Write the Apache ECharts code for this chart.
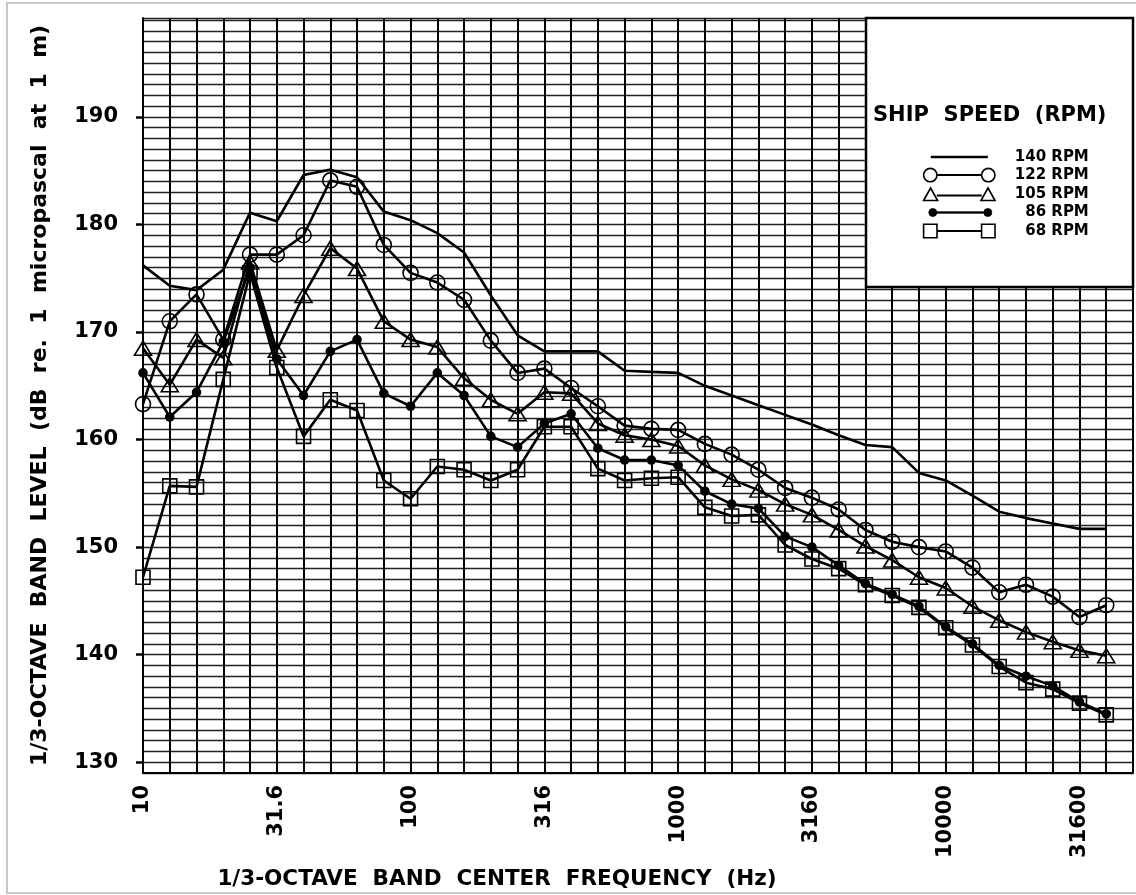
<!DOCTYPE html>
<html>
<head>
<meta charset="utf-8">
<script src="https://cdn.jsdelivr.net/npm/echarts@6/dist/echarts.min.js"></script>
<style>
  html, body { margin: 0; padding: 0; background: #fff; }
  #chart { width: 1136px; height: 895px; }
</style>
</head>
<body>
<div id="chart"></div>
<script>
// 1/3-octave band centers, 10 Hz .. 40 kHz (one grid column each)
const bands = ['10', '12.5', '16', '20', '25', '31.5', '40', '50', '63', '80',
  '100', '125', '160', '200', '250', '315', '400', '500', '630', '800',
  '1000', '1250', '1600', '2000', '2500', '3150', '4000', '5000', '6300', '8000',
  '10000', '12500', '16000', '20000', '25000', '31500', '40000'];

const xTickIdx = [0, 5, 10, 15, 20, 25, 30, 35];
const xTickLabels = ['10', '31.6', '100', '316', '1000', '3160', '10000', '31600'];
const yTicks = [130, 140, 150, 160, 170, 180, 190];

// band levels, dB re 1 uPa at 1 m
const rpm140 = [176.2, 174.3, 173.9, 175.8, 181.1, 180.3, 184.6, 185.1, 184.4, 181.2,
  180.4, 179.2, 177.4, 173.4, 169.7, 168.2, 168.2, 168.2, 166.4, 166.3,
  166.2, 165.0, 164.1, 163.2, 162.3, 161.4, 160.4, 159.5, 159.3, 156.9,
  156.2, 154.8, 153.3, 152.7, 152.2, 151.7, 151.7];
const rpm122 = [163.3, 171.0, 173.5, 169.3, 177.2, 177.2, 179.0, 184.1, 183.5, 178.1,
  175.5, 174.6, 173.0, 169.2, 166.2, 166.6, 164.8, 163.1, 161.3, 161.0,
  160.9, 159.6, 158.6, 157.2, 155.5, 154.6, 153.5, 151.6, 150.5, 150.0,
  149.6, 148.1, 145.8, 146.5, 145.4, 143.5, 144.6];
const rpm105 = [168.5, 165.1, 169.3, 167.6, 176.5, 168.3, 173.4, 177.8, 175.9, 171.0,
  169.3, 168.6, 165.7, 163.7, 162.4, 164.4, 164.3, 161.5, 160.4, 160.0,
  159.4, 157.6, 156.3, 155.3, 154.0, 153.0, 151.6, 150.1, 148.8, 147.2,
  146.2, 144.5, 143.2, 142.1, 141.2, 140.4, 139.9];
const rpm86 = [166.2, 162.1, 164.4, 169.1, 176.0, 167.5, 164.1, 168.2, 169.3, 164.3,
  163.1, 166.2, 164.1, 160.3, 159.3, 161.5, 162.4, 159.2, 158.1, 158.1,
  157.6, 155.2, 154.0, 153.6, 151.0, 150.0, 148.3, 146.6, 145.6, 144.5,
  142.6, 141.0, 139.0, 138.0, 137.1, 135.6, 134.5];
const rpm68 = [147.2, 155.7, 155.6, 165.6, 175.5, 166.7, 160.3, 163.7, 162.7, 156.2,
  154.5, 157.5, 157.2, 156.2, 157.2, 161.2, 161.2, 157.3, 156.2, 156.4,
  156.5, 153.7, 152.9, 153.0, 150.2, 148.9, 148.0, 146.5, 145.5, 144.4,
  142.5, 140.9, 138.9, 137.4, 136.8, 135.5, 134.4];

const font = '"DejaVu Sans", sans-serif';
const hollow = 'rgba(0,0,0,0)';

// legend icons: marker - line - marker, drawn in a 73x15 box
const iconLine = 'path://M0,0M73,15M8,6.3h57v2.4h-57z';
const iconCircle = 'path://M0,0M73,15M0.8,7.5a6.7,6.7 0 1,0 13.4,0a6.7,6.7 0 1,0 -13.4,0zM14.2,7.3h44.6v0.4h-44.6zM58.8,7.5a6.7,6.7 0 1,0 13.4,0a6.7,6.7 0 1,0 -13.4,0z';
const iconTri = 'path://M0,0M73,15M0.8,14L7.8,1.5L14.8,14zM14.8,8.8h43.4v0.4h-43.4zM58.2,14L65.2,1.5L72.2,14z';
const iconDot = 'path://M0,0M73,15M6,7.5a4,4 0 1,0 8,0a4,4 0 1,0 -8,0zM14,6.8h47v1.4h-47zM61,7.5a4,4 0 1,0 8,0a4,4 0 1,0 -8,0z';
const iconSquare = 'path://M0,0M73,15M0.8,0.8h13.4v13.4h-13.4zM14.2,7.3h44.6v0.4h-44.6zM58.8,0.8h13.4v13.4h-13.4z';

function makeSeries(name, values, symbol, size, fill) {
  return {
    name: name,
    type: 'line',
    data: values.map((v, i) => [i, v]),
    symbol: symbol,
    symbolSize: size,
    showSymbol: symbol !== 'none',
    lineStyle: { color: '#000', width: 2.6 },
    itemStyle: { color: fill, borderColor: '#000', borderWidth: 1.6 },
    emphasis: { disabled: true },
    z: 3
  };
}

const chart = echarts.init(document.getElementById('chart'));

const option = {
  animation: false,
  backgroundColor: '#fff',
  grid: { left: 143, right: 3, top: 18, bottom: 122 },
  xAxis: {
    type: 'value',
    min: 0,
    max: 37,
    interval: 1,
    axisLine: { show: true, onZero: false, lineStyle: { color: '#000', width: 2 } },
    axisTick: { show: false },
    splitLine: { show: true, lineStyle: { color: '#000', width: 2 } },
    axisLabel: {
      customValues: xTickIdx,
      formatter: v => xTickLabels[xTickIdx.indexOf(v)],
      rotate: 90,
      margin: 12,
      fontSize: 21,
      fontWeight: 'bold',
      fontFamily: font,
      color: '#000'
    },
    name: '1/3-OCTAVE  BAND  CENTER  FREQUENCY  (Hz)',
    nameLocation: 'middle',
    nameGap: 95,
    nameTextStyle: {
      fontSize: 21.5,
      fontWeight: 'bold',
      fontFamily: font,
      color: '#000',
      padding: [0, 282, 0, 0]
    }
  },
  yAxis: [
    {
      type: 'value',
      min: 129,
      max: 199.2,
      interval: 1,
      axisLine: { show: true, lineStyle: { color: '#000', width: 2 } },
      axisTick: { show: false },
      axisLabel: { show: false },
      splitLine: { show: true, lineStyle: { color: '#222', width: 1.4 } },
      name: '1/3-OCTAVE  BAND  LEVEL  (dB  re.  1  micropascal  at  1  m)',
      nameLocation: 'middle',
      nameGap: 92,
      nameTextStyle: { fontSize: 22, fontWeight: 'bold', fontFamily: font, color: '#000' }
    },
    {
      type: 'value',
      min: 129,
      max: 199.2,
      position: 'left',
      axisLine: { show: false },
      axisTick: { show: true, customValues: yTicks, length: 7, lineStyle: { color: '#000', width: 2.5 } },
      axisLabel: {
        customValues: yTicks,
        margin: 25,
        fontSize: 21,
        fontWeight: 'bold',
        fontFamily: font,
        color: '#000'
      },
      splitLine: { show: false }
    }
  ],
  legend: {
    orient: 'vertical',
    left: 922,
    top: 149.5,
    padding: 0,
    itemWidth: 73,
    itemHeight: 15,
    itemGap: 2.3,
    selectedMode: false,
    z: 20,
    formatter: name => '{t|' + name + '}',
    textStyle: {
      color: '#000',
      rich: {
        t: { width: 88, height: 15, lineHeight: 15, align: 'right', fontSize: 15, fontWeight: 'bold', fontFamily: font, color: '#000' }
      }
    },
    data: [
      { name: '140 RPM', icon: iconLine, itemStyle: { color: '#000', borderWidth: 0 } },
      { name: '122 RPM', icon: iconCircle, itemStyle: { color: hollow, borderColor: '#000', borderWidth: 1.6 } },
      { name: '105 RPM', icon: iconTri, itemStyle: { color: hollow, borderColor: '#000', borderWidth: 1.6 } },
      { name: '86 RPM', icon: iconDot, itemStyle: { color: '#000', borderColor: '#000', borderWidth: 0.8 } },
      { name: '68 RPM', icon: iconSquare, itemStyle: { color: hollow, borderColor: '#000', borderWidth: 1.6 } }
    ]
  },
  graphic: [
    {
      type: 'rect', silent: true, z: 0,
      shape: { x: 7, y: 3, width: 1140, height: 890 },
      style: { fill: 'none', stroke: '#c8c8c8', lineWidth: 2 }
    },
    {
      type: 'rect', silent: true, z: 10,
      shape: { x: 866, y: 18, width: 267, height: 269 },
      style: { fill: '#fff', stroke: '#000', lineWidth: 2.5 }
    },
    {
      type: 'text', silent: true, z: 11,
      x: 873, y: 116,
      style: {
        text: 'SHIP  SPEED  (RPM)',
        fontSize: 21,
        fontWeight: 'bold',
        fontFamily: font,
        fill: '#000',
        verticalAlign: 'middle'
      }
    }
  ],
  series: [
    makeSeries('140 RPM', rpm140, 'none', 0, '#000'),
    makeSeries('122 RPM', rpm122, 'circle', 15, hollow),
    makeSeries('105 RPM', rpm105, 'triangle', [17, 14], hollow),
    makeSeries('86 RPM', rpm86, 'circle', 8, '#000'),
    makeSeries('68 RPM', rpm68, 'rect', 14, hollow)
  ]
};

chart.setOption(option);
</script>
</body>
</html>
